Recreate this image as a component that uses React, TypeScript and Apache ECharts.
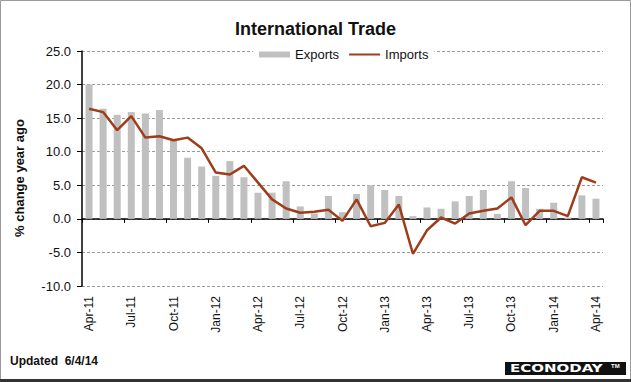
import React, { useEffect, useRef } from "react";
import * as echarts from "echarts";

const months = [
  "Apr-11", "May-11", "Jun-11", "Jul-11", "Aug-11", "Sep-11", "Oct-11", "Nov-11", "Dec-11",
  "Jan-12", "Feb-12", "Mar-12", "Apr-12", "May-12", "Jun-12", "Jul-12", "Aug-12", "Sep-12",
  "Oct-12", "Nov-12", "Dec-12", "Jan-13", "Feb-13", "Mar-13", "Apr-13", "May-13", "Jun-13",
  "Jul-13", "Aug-13", "Sep-13", "Oct-13", "Nov-13", "Dec-13", "Jan-14", "Feb-14", "Mar-14",
  "Apr-14",
];

const exportsYoY = [
  20.0, 16.4, 15.5, 15.9, 15.7, 16.2, 11.6, 9.1, 7.8,
  6.4, 8.6, 6.2, 3.9, 3.9, 5.6, 1.85, 0.8, 3.4,
  1.0, 3.7, 5.0, 4.3, 3.4, 0.4, 1.7, 1.5, 2.6,
  3.4, 4.3, 0.75, 5.6, 4.6, 1.5, 2.4, 0.2, 3.5,
  3.0,
];

const importsYoY = [
  16.4, 15.9, 13.2, 15.3, 12.1, 12.3, 11.7, 12.1, 10.5,
  6.9, 6.6, 7.9, 5.4, 2.9, 1.55, 0.9, 1.05, 1.35,
  -0.3, 2.9, -1.1, -0.6, 2.15, -5.2, -1.7, 0.2, -0.7,
  0.8, 1.2, 1.55, 3.2, -0.95, 1.2, 1.2, 0.4, 6.2,
  5.4,
];

const FONT = "'Liberation Sans', Arial, sans-serif";

export default function App() {
  const ref = useRef<HTMLDivElement>(null);
  useEffect(() => {
    if (!ref.current) return;
    const chart = echarts.init(ref.current, null, { renderer: "svg" });
    chart.setOption({
      animation: false,
      backgroundColor: "#ffffff",
      title: {
        text: "International Trade",
        left: "center",
        top: 15,
        textStyle: { fontFamily: FONT, fontSize: 18, fontWeight: "bold", color: "#111" },
      },
      legend: {
        left: 253,
        top: 45,
        backgroundColor: "#ffffff",
        padding: [3, 6],
        itemGap: 9,
        itemWidth: 31,
        itemHeight: 6,
        textStyle: { fontFamily: FONT, fontSize: 13, color: "#111" },
        data: [
          { name: "Exports", icon: "rect" },
          { name: "Imports", itemStyle: { opacity: 0 } },
        ],
      },
      grid: { left: 82, right: 28, top: 51, bottom: 96, outerBoundsMode: "none", containLabel: false },
      xAxis: {
        type: "category",
        data: months,
        boundaryGap: true,
        axisLine: { onZero: true, lineStyle: { color: "#000", width: 1.5 } },
        axisTick: { show: true, interval: 2, length: 4, lineStyle: { color: "#000" } },
        axisLabel: {
          interval: 2,
          rotate: 90,
          margin: 10,
          hideOverlap: false,
          fontFamily: FONT,
          fontSize: 12,
          color: "#111",
        },
        splitLine: { show: false },
      },
      yAxis: {
        type: "value",
        min: -10,
        max: 25,
        interval: 5,
        axisLine: { show: true, lineStyle: { color: "#000", width: 1.5 } },
        axisTick: { show: true, length: 5, lineStyle: { color: "#000" } },
        axisLabel: {
          margin: 11,
          fontFamily: FONT,
          fontSize: 13,
          color: "#111",
          formatter: (v: number) => v.toFixed(1),
        },
        splitLine: { show: true, lineStyle: { color: "#9a9a9a", type: [3, 2], width: 1 } },
      },
      series: [
        {
          name: "Exports",
          type: "bar",
          data: exportsYoY,
          barWidth: 7,
          itemStyle: { color: "#c0c0c0" },
          z: 2,
        },
        {
          name: "Imports",
          type: "line",
          data: importsYoY,
          symbol: "none",
          showSymbol: false,
          lineStyle: { color: "#9e3d1b", width: 2.5 },
          itemStyle: { color: "#9e3d1b" },
          z: 3,
        },
      ],
      graphic: [
        {
          type: "rect",
          shape: { x: 0.5, y: 0.5, width: 630, height: 381 },
          style: { fill: "none", stroke: "#9a9a9a", lineWidth: 1 },
          silent: true,
        },
        {
          type: "line",
          shape: { x1: 0, y1: 380.5, x2: 631, y2: 380.5 },
          style: { stroke: "#333", lineWidth: 3 },
          silent: true,
        },
        {
          type: "text",
          x: 19,
          y: 178,
          rotation: Math.PI / 2,
          style: {
            text: "% change year ago",
            fontFamily: FONT,
            fontSize: 13,
            fontWeight: "bold",
            fill: "#111",
            align: "center",
            verticalAlign: "middle",
          },
        },
        {
          type: "text",
          left: 10,
          top: 355,
          style: {
            text: "Updated  6/4/14",
            fontFamily: FONT,
            fontSize: 12,
            fontWeight: "bold",
            fill: "#111",
          },
        },
        {
          type: "rect",
          shape: { x: 505, y: 362, width: 121, height: 13 },
          style: { fill: "#111" },
        },
        {
          type: "text",
          x: 510,
          y: 368.5,
          scaleX: 1.5,
          style: {
            text: "ECONODAY",
            fontFamily: "'DejaVu Sans', sans-serif",
            fontSize: 10,
            fontWeight: "bold",
            fill: "#ffffff",
            verticalAlign: "middle",
          },
        },
        {
          type: "text",
          x: 611,
          y: 366,
          style: {
            text: "TM",
            fontFamily: FONT,
            fontSize: 6,
            fontWeight: "bold",
            fill: "#ffffff",
            verticalAlign: "middle",
          },
        },
      ],
    });
    return () => chart.dispose();
  }, []);
  return (
    <div
      ref={ref}
      style={{ position: "fixed", left: 0, top: 0, width: 631, height: 382 }}
    />
  );
}
